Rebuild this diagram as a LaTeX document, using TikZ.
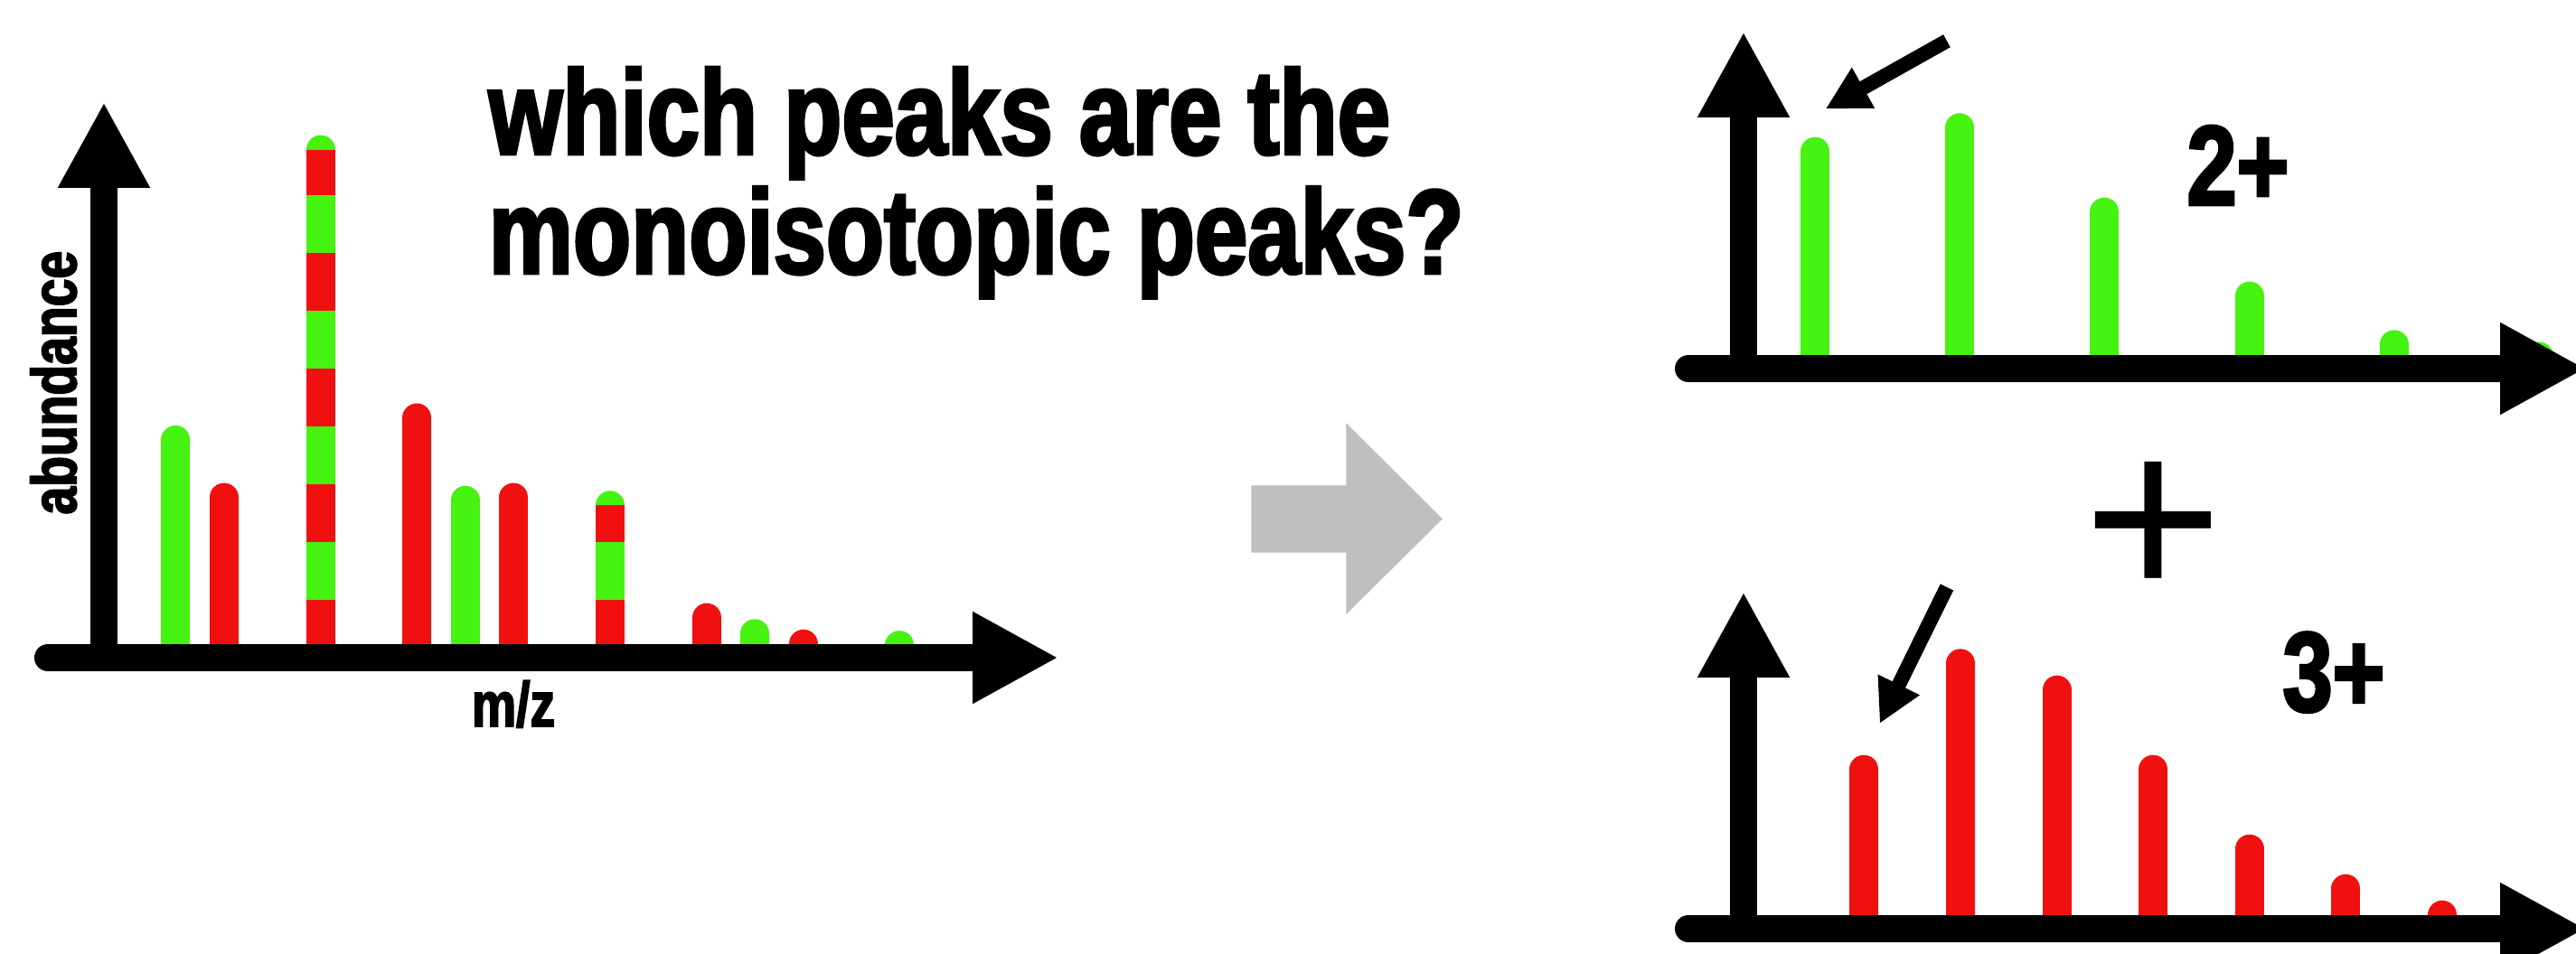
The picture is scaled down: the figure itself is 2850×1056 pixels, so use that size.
\documentclass[tikz,border=0pt]{standalone}
\usepackage{fontspec}
\usetikzlibrary{arrows.meta}

\newfontfamily\condfont{Liberation Sans}[FakeStretch=0.79,FakeBold=2.5]
\newfontfamily\plainfont{Liberation Sans}
\definecolor{peakgreen}{RGB}{70,242,16}
\definecolor{peakred}{RGB}{240,16,16}
\definecolor{arrowgrey}{RGB}{191,191,191}

\tikzset{
  axisline/.style={line width=3mm, -{Triangle[length=9.5mm, width=9.5mm]}},
  pointer/.style={line width=1.6mm, -{Triangle[length=4.8mm, width=4.8mm]}},
  peak/.style={line width=3.2mm, line cap=round},
  stripes/.style={line width=3.2mm, peakred, dash pattern=on 6.4mm off 6.4mm},
  label/.style={inner sep=0pt, font=\condfont\bfseries\fontsize{19.9}{21}\selectfont},
  question/.style={inner sep=0pt, anchor=base west, font=\condfont\bfseries\fontsize{37.8}{40}\selectfont},
  charge/.style={inner sep=0pt, anchor=base, font=\condfont\bfseries\fontsize{35.7}{38}\selectfont},
}

\begin{document}
\begin{tikzpicture}[x=0.1mm, y=0.1mm]
    \useasboundingbox (0,0) rectangle (2850,1056);

    % mixed spectrum
    \foreach \px/\py/\c in {194.4/569/peakgreen, 247.8/505.4/peakred, 461.4/593.5/peakred,
        514.8/502.2/peakgreen, 568.2/505.4/peakred, 781.8/372.3/peakred,
        835.2/354.7/peakgreen, 888.6/343.2/peakred, 995.4/341.8/peakgreen} {
      \draw[peak, \c] (\px,331) -- (\px,\py);
    }
    \foreach \px/\py in {354.6/890.4, 675/496.7} {
      \draw[peak, peakgreen] (\px,331) -- (\px,\py);
      \draw[stripes] (\px,328) -- (\px,\py);
    }
    %axis
    \coordinate (O1) at (115,328);
    \draw[axisline, line cap=round] (53,328) -- (1171,328);
    \draw[axisline] (O1) -- (115,943);
    \node[label, rotate=90, anchor=base] (ylabel) at (84.2,632.3) {abundance};
    \node[label, anchor=base] (xlabel) at (568,252) {m/z};

    \node[question] (question1) at (540,885.3) {which peaks are the};
    \node[question] (question2) at (540,753.3) {monoisotopic peaks?};

    % grey arrow
    \fill[arrowgrey] (1384.3,518.7) -- (1489.3,518.7) -- (1489.3,587.7) -- (1596,481.7)
        -- (1489.3,376) -- (1489.3,444.3) -- (1384.3,444.3) -- cycle;

    % 2+ spectrum
    \foreach \i/\py in {0/888.3, 1/914.7, 2/821.3, 3/728.3, 4/674.7, 5/661.7} {
      \draw[peak, peakgreen] (2008.2+160.1*\i,651) -- (2008.2+160.1*\i,\py);
    }
    \coordinate (O2) at (1929,648);
    \draw[axisline, line cap=round] (1868,648) -- (2861,648);
    \draw[axisline] (O2) -- (1929,1021);
    \draw[pointer] (2153.9,1010.7) -- (2019.6,935.3);
    \node[charge] (charge2) at (2476,829.3) {2+};

    \node[inner sep=0pt, anchor=base, font=\plainfont\fontsize{75}{78}\selectfont] (plus) at (2382.3,392) {+};

    % 3+ spectrum
    \foreach \i/\py in {0/204.3, 1/321.7, 2/292.3, 3/204.3, 4/116.3, 5/72.3, 6/43.3} {
      \draw[peak, peakred] (2062.4+106.6*\i,31) -- (2062.4+106.6*\i,\py);
    }
    \coordinate (O3) at (1929,28);
    \draw[axisline, line cap=round] (1868,28) -- (2861,28);
    \draw[axisline] (O3) -- (1929,401);
    \draw[pointer] (2153.9,406) -- (2079.6,255);
    \node[charge] (charge3) at (2582,268.7) {3+};
\end{tikzpicture}
\end{document}
